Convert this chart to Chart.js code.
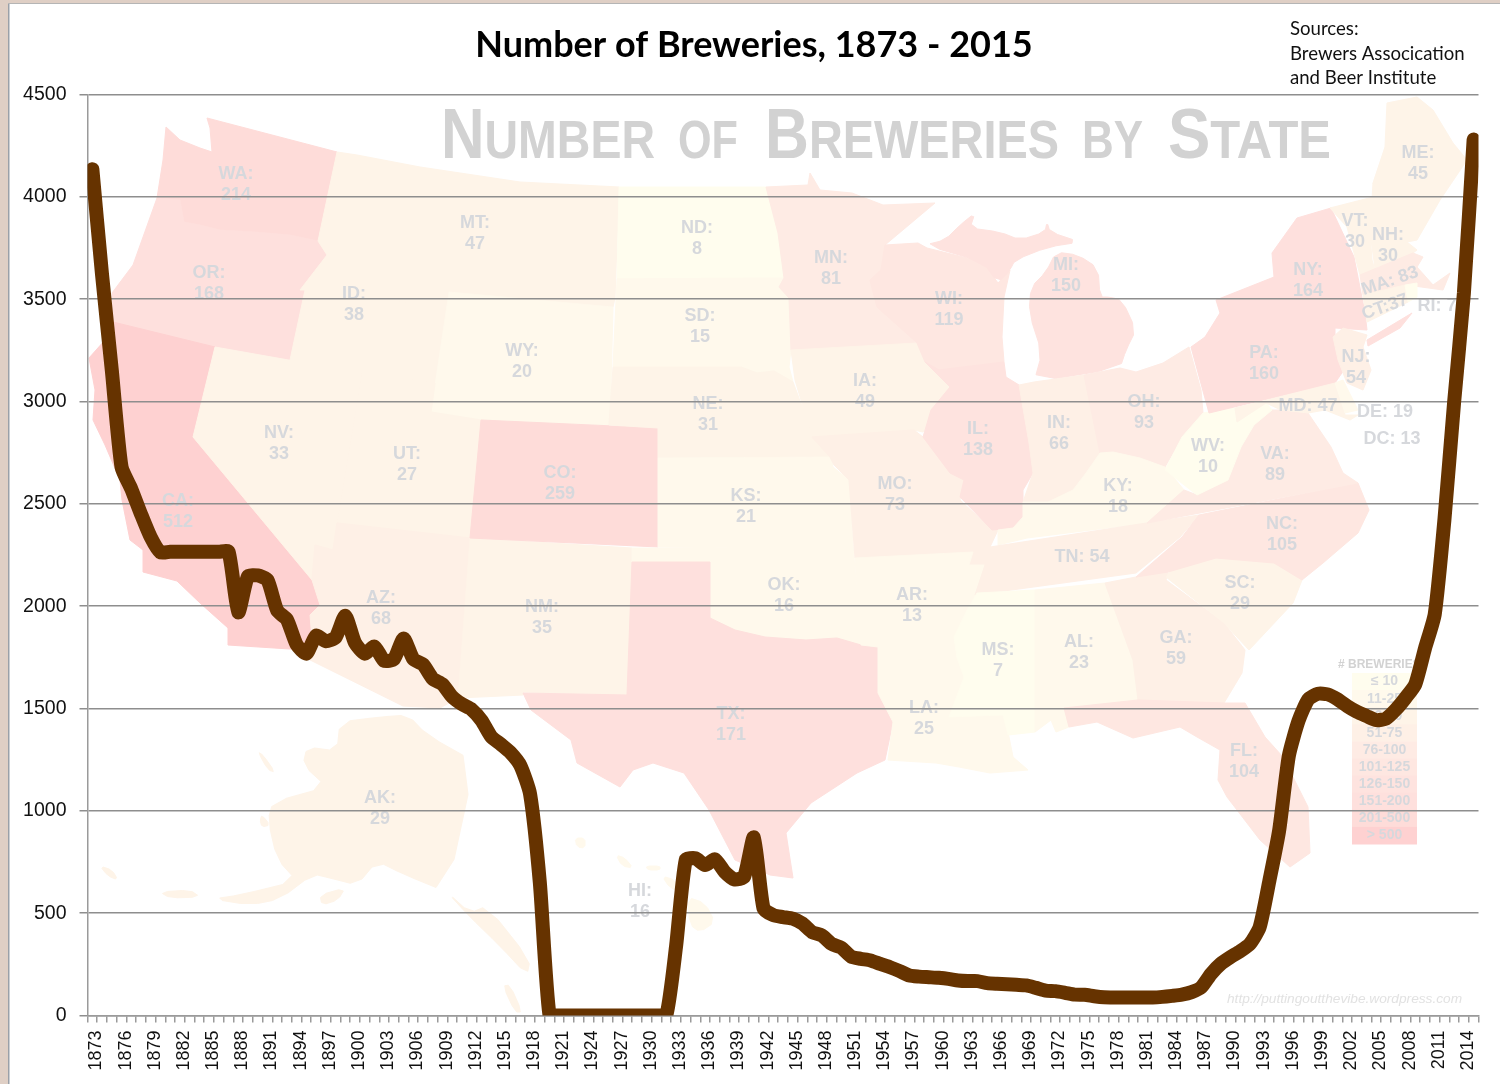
<!DOCTYPE html>
<html>
<head>
<meta charset="utf-8">
<style>html,body{margin:0;padding:0;background:#fff}canvas{display:block}</style>
<script src="https://cdn.jsdelivr.net/npm/chart.js@4"></script>
</head>
<body>
<canvas id="c" width="1500" height="1084"></canvas>
<script>
const years = ["1873","1874","1875","1876","1877","1878","1879","1880","1881","1882","1883","1884","1885","1886","1887","1888","1889","1890","1891","1892","1893","1894","1895","1896","1897","1898","1899","1900","1901","1902","1903","1904","1905","1906","1907","1908","1909","1910","1911","1912","1913","1914","1915","1916","1917","1918","1919","1920","1921","1922","1923","1924","1925","1926","1927","1928","1929","1930","1931","1932","1933","1934","1935","1936","1937","1938","1939","1940","1941","1942","1943","1944","1945","1946","1947","1948","1949","1950","1951","1952","1953","1954","1955","1956","1957","1958","1959","1960","1961","1962","1963","1964","1965","1966","1967","1968","1969","1970","1971","1972","1973","1974","1975","1976","1977","1978","1979","1980","1981","1982","1983","1984","1985","1986","1987","1988","1989","1990","1991","1992","1993","1994","1995","1996","1997","1998","1999","2000","2001","2002","2003","2004","2005","2006","2007","2008","2009","2010","2011","2012","2013","2014","2015"];
const breweries = [
  4135,3617,3152,2680,2573,2450,2337,
  2263,2266,2266,2266,2266,2266,2266,2266,1970,2146,
  2150,2128,1979,1935,1812,1768,1856,1829,1847,1953,
  1821,1768,1803,1733,1741,1842,1741,1715,1645,1618,
  1557,1521,1495,1442,1363,1325,1284,1222,1082,650,
  0,0,0,0,0,0,0,0,0,0,
  0,0,0,335,760,768,735,763,702,665,
  678,870,523,490,481,473,449,407,391,350,
  331,288,277,269,252,236,217,195,190,187,
  184,179,171,168,168,158,155,153,150,147,
  135,122,119,111,102,101,94,89,88,88,
  88,88,88,91,96,102,114,138,203,252,
  285,314,350,431,658,902,1268,1440,1545,1572,
  1569,1545,1512,1484,1463,1443,1451,1495,1552,1618,
  1794,1960,2424,3000,3530,4280
];
const yTicks = [0,500,1000,1500,2000,2500,3000,3500,4000,4500];
const titleText = "Number of Breweries, 1873 - 2015";
const sourceLines = ["Sources:","Brewers Assocication","and Beer Institute"];
const stateCodes = ["WA","OR","CA","NV","ID","MT","WY","UT","AZ","NM","CO","ND","SD","NE","KS","OK","TX","MN","IA","MO","AR","LA","WI","IL","MI","IN","OH","KY","TN","MS","AL","GA","FL","SC","NC","VA","WV","PA","NY","NJ","MD","DE","DC","VT","NH","ME","MA","CT","RI","AK","HI"];
const stateCounts = [214,168,512,33,38,47,20,27,68,35,259,8,15,31,21,16,171,81,49,73,13,25,119,138,150,66,93,18,54,7,23,59,104,29,105,89,10,160,164,54,47,19,13,30,30,45,83,37,7,29,16];
const legendBins = ["≤ 10","11-25","26-50","51-75","76-100","101-125","126-150","151-200","201-500","> 500"];

// ---- decorative background map (page pixels), independent of the chart data ----
const binLimits = [10,25,50,75,100,125,150,200,500,1e9];
const binColors = ["#fffdee","#fff9ec","#fef4e8","#fef0e6","#feebe4","#fee7e1","#fee3df","#fee0dd","#fedcd9","#fed1d1"];
const binColor = n => binColors[binLimits.findIndex(l => n <= l)];
const countOf = s => stateCounts[stateCodes.indexOf(s)];
const roundedShapes = ["AK","HI","MI"];
const shapes = {
 WA:[[[166,127],[180,140],[200,148],[212,152],[210,128],[207,118],[337,152],[318,241],[290,235],[255,232],[220,230],[200,225],[184,222],[180,200],[157,198],[163,160]]],
 OR:[[[157,198],[180,200],[184,222],[200,225],[220,230],[255,232],[290,235],[318,241],[327,255],[300,290],[305,290],[290,360],[215,347],[113,322],[112,293],[133,265]]],
 CA:[[[113,322],[215,347],[193,437],[312,580],[320,605],[310,615],[312,640],[305,650],[228,645],[228,628],[200,603],[177,581],[143,572],[143,550],[130,540],[122,500],[120,480],[105,445],[93,420],[95,390],[89,358],[105,340]]],
 NV:[[[215,347],[362,373],[338,523],[333,550],[315,545],[312,580],[193,437]]],
 ID:[[[337,152],[357,155],[353,187],[373,230],[382,232],[373,262],[390,290],[400,302],[433,303],[447,307],[435,383],[362,373],[290,360],[305,290],[300,290],[327,255],[318,241]]],
 MT:[[[357,155],[420,167],[520,182],[619,187],[615,298],[613,307],[449,292],[447,307],[433,303],[400,302],[390,290],[373,262],[382,232],[373,230],[353,187]]],
 WY:[[[449,292],[613,307],[610,425],[481,420],[431,412]]],
 UT:[[[362,373],[435,383],[431,412],[481,420],[470,538],[337,523]]],
 AZ:[[[337,523],[470,538],[458,698],[440,708],[403,706],[300,655],[312,640],[310,615],[320,605],[312,580],[315,545],[333,550]]],
 NM:[[[470,538],[632,548],[632,562],[628,695],[523,692],[523,695],[458,698]]],
 CO:[[[481,420],[658,428],[658,547],[470,538]]],
 ND:[[[619,187],[766,187],[778,233],[784,278],[617,279]]],
 SD:[[[617,279],[784,278],[779,287],[789,298],[791,350],[789,367],[793,382],[774,371],[757,373],[741,367],[613,367]]],
 NE:[[[613,367],[741,367],[757,373],[774,371],[793,382],[812,433],[831,457],[658,458],[658,428],[609,425]]],
 KS:[[[658,458],[831,457],[833,467],[849,480],[853,546],[745,548],[658,547]]],
 OK:[[[632,548],[745,548],[853,545],[861,645],[837,638],[806,640],[765,637],[735,630],[710,618],[710,562],[632,562]]],
 TX:[[[632,562],[710,562],[710,618],[735,630],[765,637],[806,640],[837,638],[861,645],[878,647],[878,693],[893,722],[885,760],[857,773],[811,803],[786,833],[793,878],[770,875],[735,860],[709,810],[684,773],[653,763],[633,770],[620,787],[577,763],[571,740],[531,710],[523,693],[627,695]]],
 MN:[[[766,187],[808,185],[810,173],[820,190],[852,193],[883,205],[935,203],[885,245],[881,270],[870,280],[877,307],[914,340],[917,343],[791,350],[789,298],[779,287],[784,278],[778,233]]],
 IA:[[[791,350],[917,343],[925,362],[950,387],[931,410],[933,420],[923,432],[914,430],[812,437],[795,380]]],
 MO:[[[812,437],[914,430],[923,437],[950,473],[964,480],[960,500],[989,527],[998,530],[990,547],[985,565],[969,565],[973,552],[855,558],[849,480],[834,465],[830,457]]],
 AR:[[[855,558],[973,552],[969,565],[985,565],[977,593],[967,610],[954,637],[957,658],[878,662],[878,647],[861,645]]],
 LA:[[[878,662],[957,658],[964,677],[949,717],[1003,715],[1008,732],[1013,757],[1028,770],[990,773],[959,767],[936,763],[888,760],[893,722],[878,693]]],
 WI:[[[885,245],[918,243],[927,248],[983,262],[998,283],[1010,270],[1004,297],[1002,337],[1004,362],[939,370],[925,362],[917,343],[914,340],[877,307],[870,280],[881,270]]],
 IL:[[[939,370],[1004,362],[1006,377],[1019,385],[1029,443],[1033,473],[1023,490],[1023,517],[1013,528],[992,530],[960,497],[964,480],[950,473],[923,437],[931,410],[950,387],[925,362]]],
 MI:[[[925,245],[945,240],[960,225],[975,213],[970,228],[1000,232],[1020,240],[1045,232],[1047,222],[1050,232],[1080,242],[1048,247],[1015,260],[1010,270],[998,283],[983,262]],
     [[1056,252],[1078,255],[1098,268],[1100,297],[1109,297],[1122,300],[1136,330],[1126,350],[1120,368],[1034,382],[1042,353],[1029,313],[1031,287],[1046,272]]],
 IN:[[[1019,385],[1034,382],[1084,375],[1100,453],[1086,473],[1073,490],[1048,502],[1023,502],[1033,473],[1029,443]]],
 OH:[[[1084,375],[1120,368],[1136,372],[1163,363],[1189,347],[1201,390],[1203,413],[1182,437],[1165,467],[1140,458],[1113,452],[1100,453]]],
 KY:[[[1100,453],[1113,452],[1140,458],[1165,467],[1184,490],[1147,523],[1027,538],[998,545],[998,530],[1013,528],[1023,517],[1023,502],[1048,502],[1073,490],[1086,473]]],
 TN:[[[990,547],[1199,515],[1180,537],[1136,573],[975,595],[985,565]]],
 MS:[[[977,593],[1035,590],[1035,732],[1008,735],[1003,715],[949,717],[964,677],[957,658],[954,637],[967,610]]],
 AL:[[[1035,590],[1105,583],[1133,660],[1138,700],[1064,708],[1069,727],[1056,732],[1051,720],[1035,732]]],
 GA:[[[1105,583],[1136,577],[1168,572],[1166,580],[1224,623],[1245,650],[1242,673],[1230,693],[1224,703],[1138,700],[1133,660]]],
 FL:[[[1064,708],[1138,700],[1224,703],[1245,703],[1265,737],[1283,757],[1308,807],[1310,853],[1290,867],[1260,840],[1227,797],[1218,780],[1220,750],[1197,737],[1180,727],[1133,738],[1097,722],[1069,727]]],
 SC:[[[1166,577],[1178,560],[1216,558],[1274,563],[1302,580],[1293,603],[1249,650],[1224,623]]],
 NC:[[[1199,515],[1358,483],[1369,510],[1358,533],[1323,563],[1302,580],[1274,563],[1216,558],[1168,572],[1136,577],[1182,537]]],
 VA:[[[1197,495],[1228,480],[1241,447],[1254,425],[1272,410],[1281,410],[1308,413],[1331,447],[1343,473],[1358,483],[1147,523],[1184,490]]],
 WV:[[[1203,413],[1235,408],[1237,422],[1266,403],[1272,410],[1254,425],[1241,447],[1228,480],[1197,495],[1165,470],[1182,437]]],
 PA:[[[1191,347],[1205,337],[1207,342],[1316,313],[1335,328],[1335,343],[1346,367],[1335,383],[1209,413]]],
 NY:[[[1216,300],[1274,277],[1272,253],[1297,218],[1331,208],[1354,257],[1365,313],[1367,330],[1335,328],[1316,313],[1207,342],[1205,337],[1220,313]],
     [[1367,340],[1412,313],[1400,328],[1368,346]]],
 NJ:[[[1333,337],[1343,328],[1367,335],[1363,347],[1371,370],[1363,390],[1347,383],[1338,360]]],
 MD:[[[1235,408],[1335,383],[1345,415],[1358,415],[1350,420],[1325,410],[1308,413],[1281,410],[1266,403],[1237,422]]],
 DE:[[[1335,383],[1343,380],[1358,410],[1345,413]]],
 VT:[[[1330,208],[1373,197],[1370,233],[1372,260],[1375,270],[1360,275],[1347,227]]],
 NH:[[[1373,183],[1407,242],[1417,250],[1413,253],[1375,268],[1370,233]]],
 ME:[[[1387,103],[1417,97],[1433,110],[1453,143],[1467,160],[1440,200],[1417,240],[1407,242],[1373,183],[1385,147]]],
 MA:[[[1360,275],[1413,253],[1423,257],[1417,267],[1433,285],[1450,273],[1443,290],[1407,285],[1363,295]]],
 CT:[[[1363,295],[1405,285],[1408,302],[1367,322]]],
 RI:[[[1405,285],[1417,283],[1417,297],[1408,302]]],
 AK:[[[340,722],[380,717],[408,715],[427,735],[475,762],[447,892],[403,874],[377,861],[357,885],[330,878],[313,874],[280,899],[250,905],[213,899],[240,895],[297,881],[277,859],[268,820],[273,802],[327,787],[303,765],[307,747],[337,751]],
     [[447,892],[470,913],[487,906],[530,960],[527,975],[500,946],[468,915]],
     [[503,986],[510,985],[522,1012],[515,1012]],
     [[160,892],[190,890],[200,897],[170,898]],
     [[100,866],[112,870],[118,880],[108,876]],
     [[320,895],[345,888],[338,900],[322,905]],
     [[260,820],[262,815],[270,825],[262,827]],
     [[258,752],[263,755],[275,772],[268,770]]],
 HI:[[[575,838],[585,838],[585,848],[577,847]],[[616,855],[625,858],[633,868],[622,866]],[[646,866],[660,866],[660,870],[648,870]],[[662,876],[675,880],[682,892],[670,888]],[[687,897],[705,903],[715,922],[700,932],[690,925]]]
};
const labels = [
 ["WA",236,173],["OR",209,272],["ID",354,293],["MT",475,222],["NV",279,432],["UT",407,453],["CA",178,500],["AZ",381,597],["WY",522,350],["CO",560,472],["NM",542,606],["ND",697,227],["SD",700,315],["NE",708,403],["KS",746,495],["OK",784,584],["TX",731,713],["MN",831,257],["IA",865,380],["MO",895,483],["AR",912,594],["LA",924,707],["WI",949,298],["IL",978,428],["MI",1066,264],["IN",1059,422],["OH",1144,401],["KY",1118,485],["MS",998,649],["AL",1079,641],["GA",1176,637],["SC",1240,582],["NC",1282,523],["VA",1275,453],["WV",1208,445],["PA",1264,352],["NY",1308,269],["NJ",1356,356],["VT",1355,220],["NH",1388,234],["ME",1418,152],["FL",1244,750],["AK",380,797],["HI",640,890]
];
const inlineLabels = [["TN",1082,556,0,": "],["MD",1308,405,0,": "],["DE",1385,411,0,": "],["DC",1392,438,0,": "],["MA",1390,280,-0.33,": "],["CT",1385,306,-0.33,":"],["RI",1437,305,0,": "]];
const titleWords = [["N","UMBER",441,655],["","OF",678,738],["B","REWERIES",765,1059],["","BY",1082,1143],["S","TATE",1168,1331]];

function chaikin(poly){
  const out=[];
  poly.forEach((p,i)=>{
    const q=poly[(i+1)%poly.length];
    out.push([p[0]*.75+q[0]*.25,p[1]*.75+q[1]*.25],[p[0]*.25+q[0]*.75,p[1]*.25+q[1]*.75]);
  });
  return out;
}

const mapPlugin = {
  id:'mapBackdrop',
  beforeDraw(chart){
    const ctx = chart.ctx;
    ctx.save();
    ctx.fillStyle='#fff'; ctx.fillRect(0,0,1500,1084);
    // window frame
    ctx.fillStyle='#dfcfc5'; ctx.fillRect(0,0,1500,3); ctx.fillRect(0,0,8,1084);
    ctx.fillStyle='#9aa0a8'; ctx.fillRect(8,3,1.5,1081);
    ctx.fillStyle='#b5b5b5'; ctx.fillRect(8,3,1492,1);
    // map
    for(const s in shapes){
      ctx.fillStyle = binColor(countOf(s));
      ctx.strokeStyle = binColor(countOf(s)); ctx.lineWidth=1; ctx.lineJoin='round';
      for(const raw of shapes[s]){
        const poly = roundedShapes.includes(s) ? chaikin(raw) : raw;
        ctx.beginPath();
        poly.forEach((p,i)=> i?ctx.lineTo(p[0],p[1]):ctx.moveTo(p[0],p[1]));
        ctx.closePath(); ctx.fill(); ctx.stroke();
      }
    }
    // map title in small caps
    ctx.textBaseline='alphabetic'; ctx.textAlign='left'; ctx.fillStyle='#d2d2d2';
    titleWords.forEach(([big,small,x0,x1])=>{
      ctx.font='bold 70px "Liberation Sans"'; const bw=ctx.measureText(big).width;
      ctx.font='bold 54px "Liberation Sans"'; const sw=ctx.measureText(small).width;
      ctx.save(); ctx.translate(x0,158); ctx.scale((x1-x0)/(bw+sw),1);
      ctx.font='bold 70px "Liberation Sans"'; ctx.fillText(big,0,0);
      ctx.font='bold 54px "Liberation Sans"'; ctx.fillText(small,bw,0);
      ctx.restore();
    });
    // state labels
    ctx.fillStyle='#d6d8dc'; ctx.textAlign='center'; ctx.textBaseline='middle';
    ctx.font='bold 18px "Liberation Sans Narrow","Liberation Sans"';
    labels.forEach(l=>{ctx.fillText(l[0]+":",l[1],l[2]+1); ctx.fillText(String(countOf(l[0])),l[1],l[2]+22);});
    inlineLabels.forEach(l=>{ctx.save();ctx.translate(l[1],l[2]+1);ctx.rotate(l[3]);ctx.fillText(l[0]+l[4]+countOf(l[0]),0,0);ctx.restore();});
    // map legend
    const lx=1352,lw=65,ly=673,lh=17.1;
    legendBins.forEach((b,i)=>{
      ctx.fillStyle=binColors[i]; ctx.fillRect(lx,ly+i*lh,lw,lh+.5);
      ctx.fillStyle='#d6d8dc'; ctx.font='bold 14px "Liberation Sans Narrow","Liberation Sans"';
      ctx.fillText(b,lx+lw/2,ly+i*lh+lh/2);
    });
    ctx.textAlign='left';
    ctx.fillStyle='#d2d2d2'; ctx.font='bold 12px "Liberation Sans"';
    ctx.fillText('# BREWERIES',1338,665);
    ctx.fillStyle='#e2e2e2'; ctx.font='italic 13.7px "Liberation Sans"';
    ctx.fillText('http://puttingoutthevibe.wordpress.com',1227,999);
    ctx.restore();
  },
  afterDraw(chart){
    const ctx=chart.ctx;
    ctx.save();
    ctx.fillStyle='#111'; ctx.font='18.6px Lato'; ctx.textAlign='left'; ctx.textBaseline='middle';
    sourceLines.forEach((t,i)=>ctx.fillText(t,1290,29+i*24.5));
    ctx.restore();
  }
};

new Chart(document.getElementById('c'),{
  type:'line',
  data:{labels:years,datasets:[{
    label:'Number of Breweries',data:breweries,borderColor:'#663300',backgroundColor:'#663300',
    borderWidth:14,borderJoinStyle:'round',borderCapStyle:'round',pointRadius:0,tension:0.2,clip:0,fill:false
  }]},
  options:{
    responsive:false,animation:false,devicePixelRatio:1,
    layout:{padding:{left:22,right:14,top:24,bottom:0}},
    plugins:{
      legend:{display:false},tooltip:{enabled:false},
      title:{display:true,text:titleText,color:'#000',font:{family:'Lato',size:36,weight:'bold',lineHeight:1.2},padding:{top:0,bottom:27.3}}
    },
    scales:{
      x:{
        type:'category',offset:true,
        grid:{display:true,offset:true,drawOnChartArea:false,drawTicks:true,tickLength:7,color:'#9a9a9a',lineWidth:1.5},
        border:{color:'#9a9a9a',width:1.5},
        ticks:{autoSkip:false,minRotation:90,maxRotation:90,padding:8,labelOffset:4,color:'#111',font:{family:'"Liberation Sans"',size:18},
          callback(v,i){return i%3===0?years[i]:'';}},
        afterFit(s){s.height=68.5;s.paddingLeft=0;s.paddingRight=0;}
      },
      y:{
        min:0,max:4500,
        afterBuildTicks(s){s.ticks=yTicks.map(v=>({value:v}));},
        grid:{color:'#8e8e8e',lineWidth:1.5,tickLength:8},
        border:{color:'#9a9a9a',width:1.5},
        ticks:{padding:13,color:'#111',font:{family:'"Liberation Sans"',size:19.5},callback(v){return String(v);}},
        afterFit(s){s.width=65.5;s.paddingTop=0;s.paddingBottom=0;}
      },
      // empty right-hand spacer so the title stays centred where the reference has it
      spacer:{
        type:'linear',position:'right',display:true,min:0,max:1,
        grid:{display:false},border:{display:false},ticks:{display:false},
        afterFit(s){s.width=7.5;}
      }
    }
  },
  plugins:[mapPlugin]
});
</script>
</body>
</html>
